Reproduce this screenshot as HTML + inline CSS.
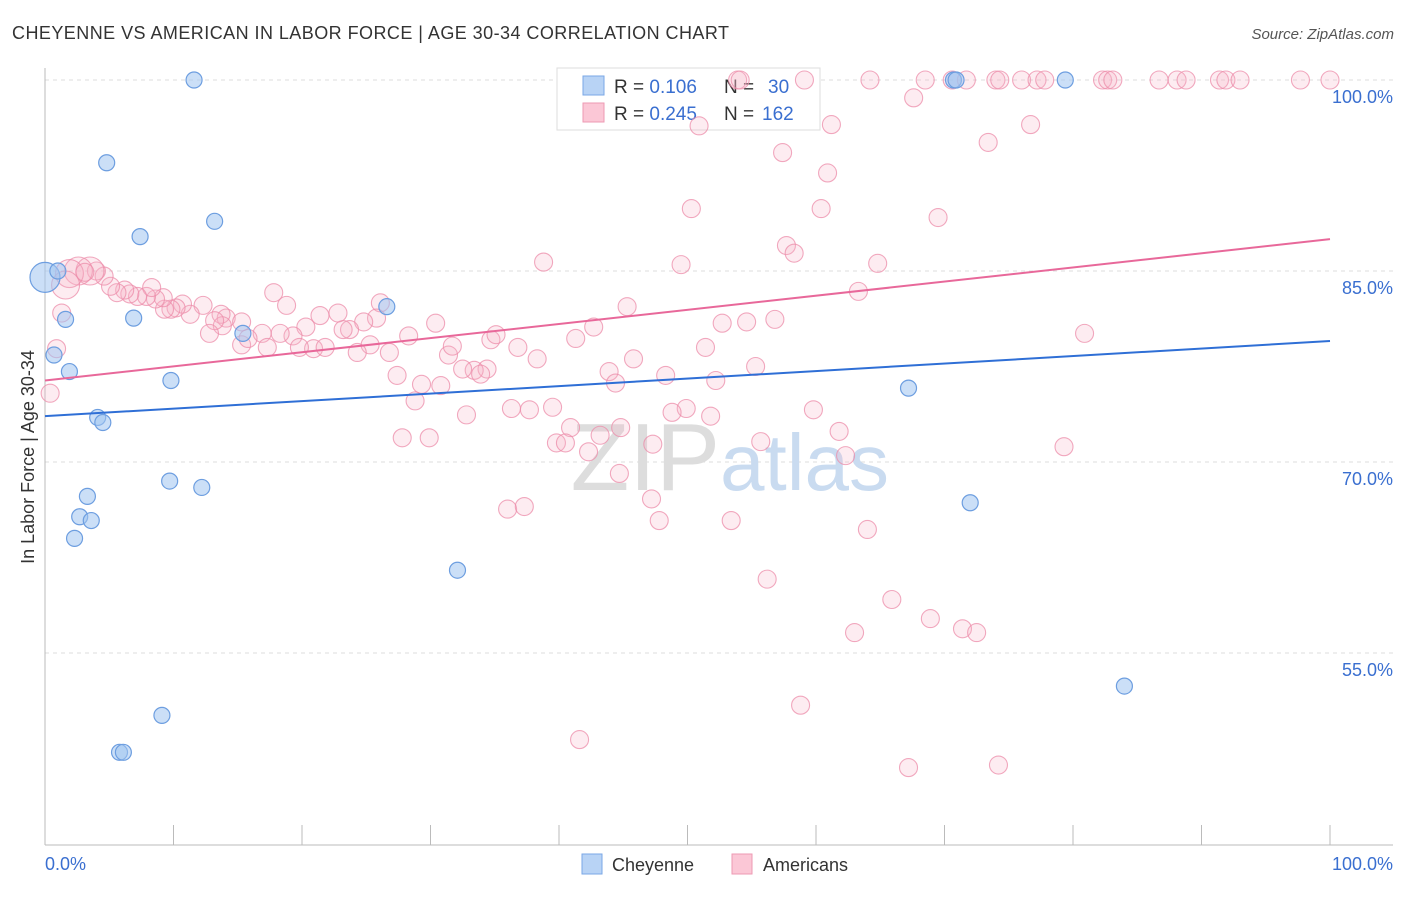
<!DOCTYPE html>
<html><head><meta charset="utf-8">
<style>
body{margin:0;background:#fff;font-family:"Liberation Sans",sans-serif;}
svg text{font-family:"Liberation Sans",sans-serif;}
</style></head>
<body>
<svg id="chart" width="1406" height="892" xmlns="http://www.w3.org/2000/svg">
<text x="12" y="39" font-size="18" fill="#333" letter-spacing="0.45">CHEYENNE VS AMERICAN IN LABOR FORCE | AGE 30-34 CORRELATION CHART</text>
<text x="1394" y="39" font-size="15" fill="#555" font-style="italic" text-anchor="end">Source: ZipAtlas.com</text>
<g id="grid"></g>
<text x="720" y="490" font-size="96" fill="#ddd" text-anchor="end" font-family="Liberation Serif">ZIP</text>
<text x="720" y="490" font-size="80" fill="#c9dbf0">atlas</text>
<g>
<rect x="557" y="68" width="263" height="62" fill="#fff" stroke="#ddd"/>
<rect x="583" y="76" width="21" height="19" fill="#b8d3f5" stroke="#7aa7e6"/>
<rect x="583" y="103" width="21" height="19" fill="#fbc7d6" stroke="#ee9ab3"/>
<text x="614" y="93" font-size="19" fill="#333">R = <tspan fill="#3a6fd0">0.106</tspan><tspan x="724">N = </tspan><tspan x="768" fill="#3a6fd0">30</tspan></text>
<text x="614" y="120" font-size="19" fill="#333">R = <tspan fill="#3a6fd0">0.245</tspan><tspan x="724">N = </tspan><tspan x="762" fill="#3a6fd0">162</tspan></text>
</g>
<g id="points"></g>
<g id="trends"></g>
<text transform="translate(34,457) rotate(-90)" font-size="18" fill="#333" text-anchor="middle">In Labor Force | Age 30-34</text>
<text x="45" y="870" font-size="18" fill="#3a6fd0">0.0%</text>
<text x="1393" y="870" font-size="18" fill="#3a6fd0" text-anchor="end">100.0%</text>
<g>
<rect x="582" y="854" width="20" height="20" fill="#b8d3f5" stroke="#7aa7e6"/>
<text x="612" y="871" font-size="18" fill="#333">Cheyenne</text>
<rect x="732" y="854" width="20" height="20" fill="#fbc7d6" stroke="#ee9ab3"/>
<text x="763" y="871" font-size="18" fill="#333">Americans</text>
</g>
</svg>
<script>
const yTicks=[100,85,70,55];
const yTickLabels=["100.0%","85.0%","70.0%","55.0%"];
const xTicks=[0,10,20,30,40,50,60,70,80,90,100];
const cheyX=[11.6,4.8,13.2,7.4,0,1.0,1.6,6.9,0.7,1.9,9.8,4.1,4.5,15.4,26.6,9.7,12.2,3.3,2.7,3.6,2.3,32.1,9.1,5.8,6.1,67.2,72.0,84.0,70.7,70.9,79.4];
const cheyY=[100,93.5,88.9,87.7,84.5,85.0,81.2,81.3,78.4,77.1,76.4,73.5,73.1,80.1,82.2,68.5,68.0,67.3,65.7,65.4,64.0,61.5,50.1,47.2,47.2,75.8,66.8,52.4,100,100,100];
const cheyBig=[4];
const amerX=[53.9,54.1,59.1,64.2,68.5,70.6,71.7,74.0,74.3,76.0,77.2,77.8,82.3,82.7,83.1,86.7,88.1,88.8,91.4,91.9,93.0,97.7,100,
67.6,50.9,61.2,76.7,57.4,73.4,60.9,50.3,60.4,69.5,57.7,58.3,38.8,49.5,64.8,63.3,80.9,79.3,45.3,42.7,41.3,52.7,54.6,56.8,51.4,55.3,52.2,45.8,43.9,44.4,48.3,49.9,48.8,51.8,44.8,47.3,43.2,40.9,39.8,40.5,42.3,44.7,47.2,47.8,53.4,55.7,59.8,61.8,62.3,64.0,56.2,65.9,63.0,68.9,71.4,72.5,58.8,41.6,67.2,74.2,36.0,37.3,36.3,37.7,39.5,32.8,34.4,33.4,33.9,32.5,31.4,31.7,34.7,35.1,36.8,38.3,30.4,28.3,26.8,26.1,25.8,24.8,23.7,23.2,25.3,24.3,22.8,21.4,20.3,27.4,29.3,28.8,30.8,27.8,29.9,20.9,19.3,18.3,16.9,19.8,21.8,18.8,17.8,17.3,15.3,15.8,14.1,13.7,15.3,13.8,13.2,12.8,12.3,11.3,10.7,10.2,9.8,9.3,9.2,8.6,7.9,8.3,7.2,6.6,6.2,5.6,5.1,4.6,4.0,3.5,2.6,1.9,1.6,1.3,0.9,0.4,3.1];
const amerY=[100,100,100,100,100,100,100,100,100,100,100,100,100,100,100,100,100,100,100,100,100,100,100,
98.6,96.4,96.5,96.5,94.3,95.1,92.7,89.9,89.9,89.2,87.0,86.4,85.7,85.5,85.6,83.4,80.1,71.2,82.2,80.6,79.7,80.9,81.0,81.2,79.0,77.5,76.4,78.1,77.1,76.2,76.8,74.2,73.9,73.6,72.7,71.4,72.1,72.7,71.5,71.5,70.8,69.1,67.1,65.4,65.4,71.6,74.1,72.4,70.5,64.7,60.8,59.2,56.6,57.7,56.9,56.6,50.9,48.2,46.0,46.2,66.3,66.5,74.2,74.1,74.3,73.7,77.3,77.2,76.9,77.3,78.4,79.1,79.6,80.0,79.0,78.1,80.9,79.9,78.6,82.5,81.3,81.0,80.4,80.4,79.2,78.6,81.7,81.5,80.6,76.8,76.1,74.8,76.0,71.9,71.9,78.9,79.9,80.1,80.1,79.0,79.0,82.3,83.3,79.0,79.2,79.7,81.3,81.6,81.0,80.7,81.1,80.1,82.3,81.6,82.4,82.1,82.0,82.0,82.9,82.8,83.0,83.7,83.0,83.2,83.5,83.3,83.8,84.6,85.0,85.0,85.0,84.8,83.9,81.7,78.9,75.4,84.9];
const amerBig=[152,153,154,155];
const cheyTrend=[73.6,79.5];
const amerTrend=[76.4,87.5];

const NS="http://www.w3.org/2000/svg";
const X0=45,X1=1330,Y100=80,PXP=12.733;
function sx(v){return X0+(X1-X0)*v/100;}
function sy(v){return Y100+(100-v)*PXP;}
function mk(tag,attrs,parent){const e=document.createElementNS(NS,tag);for(const k in attrs)e.setAttribute(k,attrs[k]);parent.appendChild(e);return e;}
const grid=document.getElementById('grid');
yTicks.forEach((t,i)=>{
  const l=mk('line',{x1:45,x2:1393,y1:sy(t),y2:sy(t),stroke:'#ddd','stroke-dasharray':'4,4'},grid);
  
  
  const tx=mk('text',{x:1393,y:sy(t)+23,'font-size':18,fill:'#3a6fd0','text-anchor':'end'},grid);
  tx.textContent=yTickLabels[i];
  
  
});
const ax=mk('line',{x1:45,x2:1393,y1:845,y2:845,stroke:'#bbb'},grid);


const ay=mk('line',{x1:45,x2:45,y1:68,y2:845,stroke:'#bbb'},grid);


xTicks.forEach(t=>{
  const l=mk('line',{x1:sx(t),x2:sx(t),y1:825,y2:845,stroke:'#bbb'},grid);
  
  
});
const pts=document.getElementById('points');
amerX.forEach((x,i)=>{
  const c=mk('circle',{cx:sx(x),cy:sy(amerY[i]),r:amerBig.includes(i)?14:9,fill:'rgba(248,180,200,0.25)',stroke:'rgba(236,140,170,0.75)','stroke-width':1.1},pts);
  
  
});
cheyX.forEach((x,i)=>{
  const c=mk('circle',{cx:sx(x),cy:sy(cheyY[i]),r:cheyBig.includes(i)?15:8,fill:'rgba(160,196,240,0.55)',stroke:'#6d9ee0','stroke-width':1.2},pts);
  
  
});
const tr=document.getElementById('trends');
const t1=mk('line',{x1:sx(0),x2:sx(100),y1:sy(cheyTrend[0]),y2:sy(cheyTrend[1]),stroke:'#2f6fd6','stroke-width':2},tr);


const t2=mk('line',{x1:sx(0),x2:sx(100),y1:sy(amerTrend[0]),y2:sy(amerTrend[1]),stroke:'#e8689a','stroke-width':2},tr);


</script>
</body></html>
